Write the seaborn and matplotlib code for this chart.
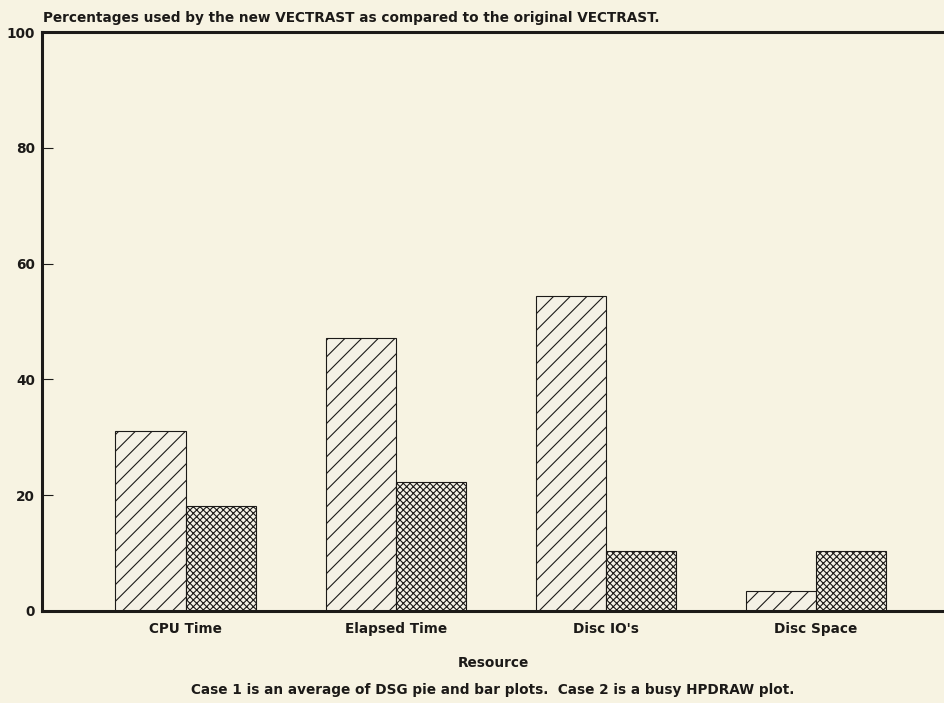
import pandas as pd
import matplotlib
matplotlib.use("Agg")
import matplotlib.pyplot as plt
import seaborn as sns

# values (percent of original VECTRAST)
resources = ["CPU Time", "Elapsed Time", "Disc IO's", "Disc Space"]
case1 = [31.1, 47.2, 54.4, 3.5]
case2 = [18.1, 22.3, 10.3, 10.4]
cases = ["Case 1", "Case 2"]
yticks = [0, 20, 40, 60, 80, 100]

title = "Percentages used by the new VECTRAST as compared to the original VECTRAST."
caption = "Case 1 is an average of DSG pie and bar plots.  Case 2 is a busy HPDRAW plot."

paper = "#f7f3e2"
ink = "#1c1a18"
fsize = 9.8

df = pd.DataFrame({
    "Resource": resources * 2,
    "Case": [cases[0]] * len(resources) + [cases[1]] * len(resources),
    "Percent": case1 + case2,
})

sns.set_theme(style="white")
plt.rcParams["font.family"] = ["DejaVu Sans"]
plt.rcParams["hatch.color"] = ink
plt.rcParams["hatch.linewidth"] = 0.8

fig = plt.figure(figsize=(9.44, 7.03), dpi=100, facecolor=paper)
ax = fig.add_axes([42 / 944, 1 - 611 / 703, 1 - 42 / 944, (611 - 32) / 703])
ax.set_facecolor(paper)

sns.barplot(data=df, x="Resource", y="Percent", hue="Case", order=resources,
            hue_order=cases, palette=[paper, paper], edgecolor=ink,
            linewidth=0.8, width=0.667, gap=0, legend=False, ax=ax)

# hatching like the old pen plotter output
for cont, hatch in zip(ax.containers, ["//", "xxxxx"]):
    for bar in cont:
        bar.set_hatch(hatch)
        bar.set_edgecolor(ink)

ax.set_xlim(-0.683, 3.61)
ax.set_ylim(0, 100)
ax.set_yticks(yticks)
ax.set_yticklabels([str(t) for t in yticks], fontweight="bold", fontsize=fsize, color=ink)
ax.set_xticklabels(resources, fontweight="bold", fontsize=fsize, color=ink)
ax.tick_params(axis="y", direction="in", length=8, width=0.8, color=ink, pad=5, left=True)
ax.tick_params(axis="x", length=0, pad=8)
ax.set_xlabel("Resource", fontweight="bold", fontsize=fsize, color=ink, labelpad=14)
ax.set_ylabel("")

for side in ["left", "top", "bottom"]:
    ax.spines[side].set_visible(True)
    ax.spines[side].set_linewidth(2.2)
    ax.spines[side].set_color(ink)
ax.spines["right"].set_visible(False)

fig.text(43 / 944, 1 - 22 / 703, title, ha="left", va="baseline",
         fontweight="bold", fontsize=fsize, color=ink)
fig.text(493 / 944, 1 - 690 / 703, caption, ha="center", va="center",
         fontweight="bold", fontsize=fsize, color=ink)

fig.savefig("out.png", dpi=100, facecolor=paper)
